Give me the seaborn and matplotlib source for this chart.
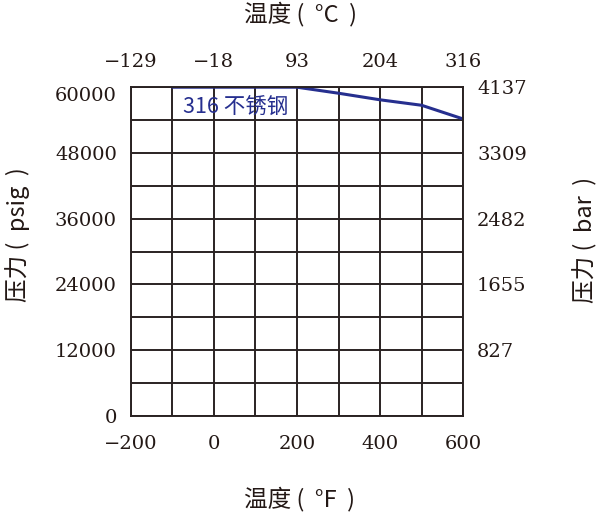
import seaborn as sns
import matplotlib.pyplot as plt
import matplotlib.transforms as mtransforms
import pandas as pd

# 316 stainless rating
temp_f = [-100, 200, 300, 400, 500, 600]
pressure_psig = [60000, 60000, 58900, 57700, 56700, 54200]

f_ticks = [-200, 0, 200, 400, 600]
c_labels = ['\u2212129', '\u221218', '93', '204', '316']
psig_ticks = [0, 12000, 24000, 36000, 48000, 60000]
bar_ticks = [827, 1655, 2482, 3309, 4137]
bar_pos = [12000, 24000, 36000, 48000, 60000]

sns.set_style("white")
cjk = ['Noto Sans CJK SC', 'DejaVu Sans']
serif = ['DejaVu Serif']
grid_c = '#2a2222'
txt_c = '#231815'

df = pd.DataFrame({'F': temp_f, 'psig': pressure_psig})

fig = plt.figure(figsize=(6, 5.16), dpi=100)
ax = fig.add_axes([0.218, 0.194, 0.554, 0.637])

sns.lineplot(data=df, x='F', y='psig', color='#262f8f', linewidth=2.2, ax=ax)

ax.set_xlim(-200, 600)
ax.set_ylim(0, 60000)
ax.set_xticks(f_ticks)
ax.set_xticks(range(-200, 601, 100), minor=True)
ax.set_yticks(psig_ticks)
ax.set_yticks(range(0, 60001, 6000), minor=True)
ax.set_xticklabels(['\u2212200', '0', '200', '400', '600'], fontfamily=serif, fontsize=14, color=txt_c)
ax.set_yticklabels([str(v) for v in psig_ticks], fontfamily=serif, fontsize=14, color=txt_c)
ax.tick_params(which='both', length=0)
ax.tick_params(axis='x', pad=14)
ax.tick_params(axis='y', pad=10)
ax.grid(which='both', color=grid_c, linewidth=1.4)
for s in ax.spines.values():
    s.set_color(grid_c)
    s.set_linewidth(1.4)
ax.set_xlabel('')
ax.set_ylabel('')

# the top psig label sits a little below its gridline in the original
shift = mtransforms.ScaledTranslation(0, -0.07, fig.dpi_scale_trans)
top_lab = ax.get_yticklabels()[-1]
top_lab.set_transform(top_lab.get_transform() + shift)

# top axis in Celsius
top = ax.twiny()
top.set_xlim(ax.get_xlim())
top.set_xticks(f_ticks)
top.set_xticklabels(c_labels, fontfamily=serif, fontsize=14, color=txt_c)
top.tick_params(length=0, pad=12)
for s in top.spines.values():
    s.set_visible(False)

# right axis in bar
right = ax.twinx()
right.set_ylim(ax.get_ylim())
right.set_yticks(bar_pos)
right.set_yticklabels([str(v) for v in bar_ticks], fontfamily=serif, fontsize=14, color=txt_c)
right.tick_params(length=0, pad=10)
for s in right.spines.values():
    s.set_visible(False)

ax.text(-75, 56400, '316 不锈钢', color='#262f8f', fontsize=15.5, family=cjk, va='center', ha='left')

lab = dict(fontsize=17, family=cjk, color=txt_c, ha='center', va='center')
fig.text(0.5, 0.972, '温度 (  °C  )', **lab)
fig.text(0.5, 0.033, '温度 (  °F  )', **lab)
fig.text(0.03, 0.545, '压力 (  psig  )', rotation=90, **lab)
fig.text(0.975, 0.535, '压力 (  bar  )', rotation=90, **lab)

fig.savefig('out.png', dpi=100)
